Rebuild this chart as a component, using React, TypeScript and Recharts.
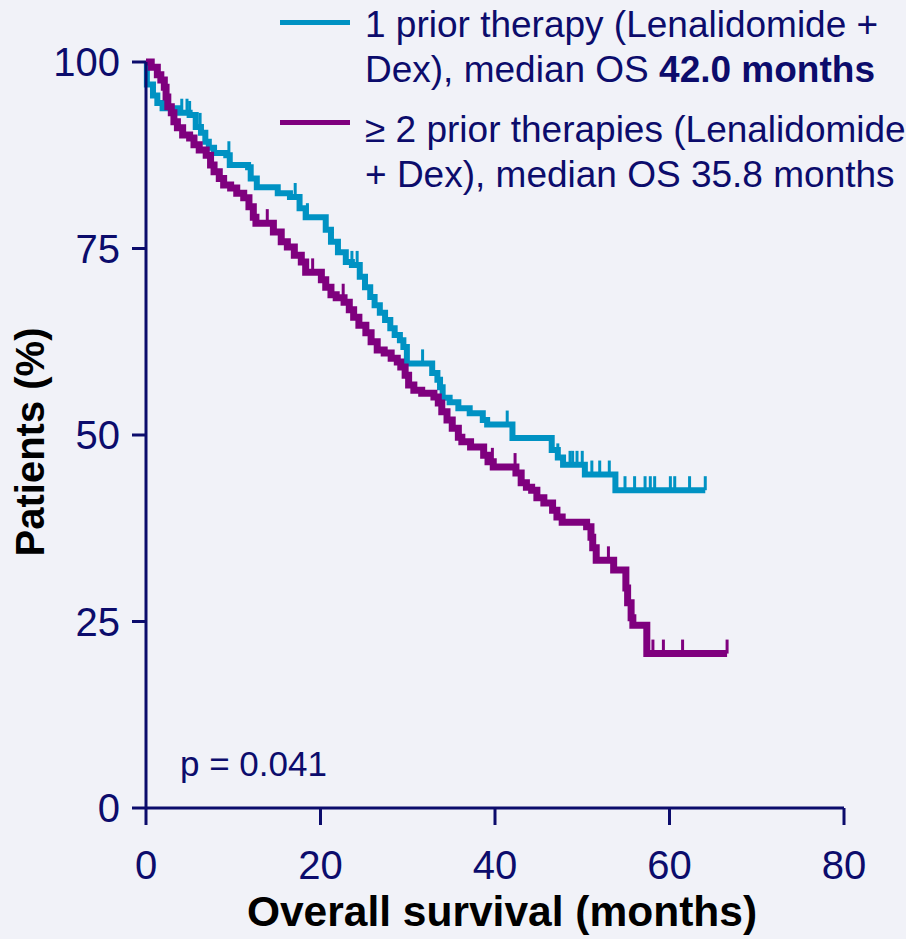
import { ComposedChart, Line, Scatter, XAxis, YAxis } from "recharts";

// KM step points: month where a new level starts, and the level (%)
const onePriorMonths = [0, 0.1, 0.8, 1.3, 1.9, 3.9, 5.0, 5.7, 6.3, 6.8, 7.2, 7.8, 9.2, 9.6, 11.7, 12.0, 12.7, 15.1, 16.5, 17.6, 18.3, 20.6, 21.2, 22.0, 22.9, 23.6, 24.5, 25.1, 25.7, 26.2, 26.8, 27.4, 28.0, 28.5, 29.1, 29.5, 29.9, 32.8, 33.4, 33.7, 34.0, 34.8, 35.8, 37.1, 38.6, 39.1, 42.0, 46.5, 47.2, 47.8, 50.3, 53.8, 64.1];
const onePriorSurv = [100, 97.0, 95.5, 94.5, 93.8, 93.2, 92.9, 91.3, 90.5, 89.3, 88.5, 87.8, 87.5, 86.2, 85.9, 84.4, 83.2, 82.4, 81.9, 80.4, 79.2, 77.5, 75.9, 74.5, 73.2, 72.8, 71.2, 69.8, 68.5, 67.4, 66.4, 65.4, 64.3, 63.4, 62.7, 61.8, 59.6, 58.3, 57.4, 56.4, 55.0, 54.4, 53.6, 52.9, 52.0, 51.4, 49.6, 48.0, 47.0, 46.0, 44.7, 42.6, 42.6];
const onePriorCensored = [4.1, 4.7, 5.0, 6.2, 9.5, 17.1, 18.5, 23.6, 24.2, 31.7, 41.4, 47.2, 48.6, 48.9, 49.4, 50.0, 51.1, 52.0, 53.1, 54.9, 56.0, 57.2, 57.8, 58.3, 60.1, 60.6, 62.3, 64.1];

const twoPlusMonths = [0, 0.6, 1.3, 1.7, 2.1, 2.3, 2.5, 2.9, 3.2, 3.6, 4.2, 5.0, 5.5, 6.1, 6.9, 7.4, 7.8, 8.4, 8.9, 9.7, 10.4, 11.2, 11.8, 12.3, 12.6, 14.6, 15.5, 16.2, 17.0, 17.8, 18.3, 20.1, 20.6, 21.2, 21.8, 22.7, 23.3, 23.8, 24.4, 25.2, 25.8, 26.5, 27.3, 28.1, 28.8, 29.2, 29.7, 30.1, 30.7, 31.6, 33.0, 33.5, 33.9, 34.5, 35.1, 35.8, 36.2, 37.2, 38.7, 39.2, 39.8, 42.4, 43.0, 43.6, 44.2, 44.8, 45.6, 46.6, 47.1, 47.7, 50.5, 51.0, 51.2, 51.6, 53.6, 55.0, 55.2, 55.6, 55.8, 57.4, 66.6];
const twoPlusSurv = [100, 99.3, 98.3, 97.6, 96.6, 95.3, 94.0, 93.2, 92.0, 91.2, 90.2, 89.8, 88.9, 88.2, 87.5, 86.2, 85.3, 84.4, 83.5, 83.1, 82.4, 81.8, 80.6, 79.2, 78.4, 77.2, 75.9, 75.2, 74.1, 73.2, 71.8, 70.8, 69.8, 68.8, 68.4, 67.8, 66.8, 65.8, 64.7, 63.7, 62.5, 61.4, 61.0, 60.3, 59.8, 59.1, 58.0, 56.7, 56.0, 55.6, 55.1, 54.3, 53.1, 52.0, 50.9, 49.7, 49.1, 48.4, 47.3, 46.4, 45.7, 44.9, 43.6, 43.0, 42.6, 41.6, 40.9, 39.9, 39.0, 38.3, 37.7, 36.3, 34.9, 33.2, 31.9, 29.5, 27.5, 25.5, 24.5, 20.7, 20.7];
const twoPlusCensored = [13.9, 19.1, 22.6, 39.7, 42.3, 53.0, 58.1, 59.3, 61.5, 66.6];

const xTicks = [0, 20, 40, 60, 80];
const yTicks = [0, 25, 50, 75, 100];

const TEAL = "#0092c3";
const PURPLE = "#7f007e";
const NAVY = "#0c0c6c";
const BG = "#f1f2f8";

const toSeries = (months: number[], surv: number[]) => months.map((t, i) => ({ t, s: surv[i] }));

// level of the step curve at time t (for placing censor ticks)
const levelAt = (months: number[], surv: number[], t: number) => {
  let v = surv[0];
  for (let i = 0; i < months.length; i++) if (months[i] <= t) v = surv[i];
  return v;
};
const toCensor = (cens: number[], months: number[], surv: number[]) =>
  cens.map((t) => ({ t, s: levelAt(months, surv, t) }));

const onePrior = toSeries(onePriorMonths, onePriorSurv);
const twoPlus = toSeries(twoPlusMonths, twoPlusSurv);
const onePriorTicks = toCensor(onePriorCensored, onePriorMonths, onePriorSurv);
const twoPlusTicks = toCensor(twoPlusCensored, twoPlusMonths, twoPlusSurv);

const censorShape = (color: string) => (props: any) => (
  <line x1={props.cx} x2={props.cx} y1={props.cy} y2={props.cy - 14} stroke={color} strokeWidth={3} />
);

const font = "'Liberation Sans', Arial, sans-serif";

export default function App() {
  return (
    <div style={{ position: "absolute", left: 0, top: 0, width: 906, height: 939, background: BG, fontFamily: font, overflow: "hidden" }}>
      <ComposedChart width={906} height={939} margin={{ top: 62, right: 62, left: 0, bottom: 0 }}>
        <XAxis
          type="number"
          dataKey="t"
          domain={[0, 80]}
          ticks={xTicks}
          height={131}
          stroke={NAVY}
          strokeWidth={3}
          tickSize={17}
          tickMargin={26}
          tick={{ fill: NAVY, fontSize: 40, fontFamily: font }}
        />
        <YAxis
          type="number"
          dataKey="s"
          domain={[0, 100]}
          ticks={yTicks}
          width={146}
          stroke={NAVY}
          strokeWidth={3}
          tickSize={14}
          tickMargin={12}
          tick={{ fill: NAVY, fontSize: 40, fontFamily: font }}
        />
        <Line data={onePrior} dataKey="s" type="stepAfter" stroke={TEAL} strokeWidth={6} dot={false} isAnimationActive={false} />
        <Line data={twoPlus} dataKey="s" type="stepAfter" stroke={PURPLE} strokeWidth={7} dot={false} isAnimationActive={false} />
        <Scatter data={onePriorTicks} dataKey="s" shape={censorShape(TEAL)} isAnimationActive={false} />
        <Scatter data={twoPlusTicks} dataKey="s" shape={censorShape(PURPLE)} isAnimationActive={false} />
      </ComposedChart>

      <div style={{ position: "absolute", left: 0, top: 889, width: 1004, textAlign: "center", fontSize: 42.5, fontWeight: "bold", color: "#000", lineHeight: "46px", whiteSpace: "nowrap" }}>
        Overall survival (months)
      </div>
      <div style={{ position: "absolute", left: 30, top: 442, width: 0, height: 0 }}>
        <div style={{ position: "absolute", left: -200, top: -23, width: 400, textAlign: "center", fontSize: 40, fontWeight: "bold", color: "#000", lineHeight: "46px", transform: "rotate(-90deg)", whiteSpace: "nowrap" }}>
          Patients (%)
        </div>
      </div>

      <div style={{ position: "absolute", left: 180, top: 744, fontSize: 35, color: NAVY, lineHeight: "40px" }}>p = 0.041</div>

      <div style={{ position: "absolute", left: 280, top: 20, width: 70, height: 5, background: TEAL }} />
      <div style={{ position: "absolute", left: 365, top: 2, fontSize: 37, color: NAVY, lineHeight: "45px", whiteSpace: "nowrap" }}>
        <div>1 prior therapy (Lenalidomide +</div>
        <div>Dex), median OS <b>42.0 months</b></div>
      </div>
      <div style={{ position: "absolute", left: 280, top: 120, width: 70, height: 5, background: PURPLE }} />
      <div style={{ position: "absolute", left: 365, top: 107, fontSize: 37, color: NAVY, lineHeight: "45px", whiteSpace: "nowrap" }}>
        <div>≥ 2 prior therapies (Lenalidomide</div>
        <div>+ Dex), median OS 35.8 months</div>
      </div>
    </div>
  );
}
